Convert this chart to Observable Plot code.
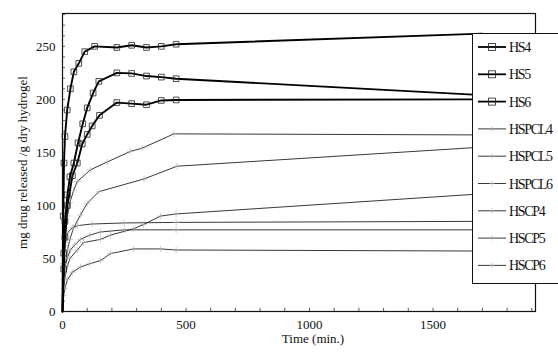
<!DOCTYPE html>
<html><head><meta charset="utf-8">
<script src="https://cdn.jsdelivr.net/npm/d3@7"></script>
<script src="https://cdn.jsdelivr.net/npm/@observablehq/plot@0.6"></script>
<style>
body{margin:0;background:#fff;}
#wrap{position:relative;width:558px;height:353px;overflow:hidden;font-family:"Liberation Serif","Times New Roman",serif;}
#wrap svg text{font-family:"Liberation Serif","Times New Roman",serif;}
#legend{position:absolute;left:472px;top:33px;width:110px;height:251px;border:1.3px solid #111;background:#fff;box-sizing:border-box;}
#legend svg{display:block;}
</style></head><body><div id="wrap"><div id="legend"></div></div>
<script>
// ---- data (time in min, mg drug released per g dry hydrogel) ----
const hs4T = [0, 3, 6, 10, 19, 32, 46, 66, 90, 130, 220, 280, 340, 400, 460, 1700];
const hs4V = [0, 90, 140, 165, 190, 210, 226, 234, 245, 250, 249, 251, 249, 250, 252, 262];
const hs5T = [0, 5, 10, 20, 30, 46, 63, 82, 100, 124, 147, 220, 280, 340, 400, 460, 1700];
const hs5V = [0, 55, 85, 110, 127, 140, 159, 177, 192, 206, 217, 225, 224.5, 222, 221, 219.5, 204];
const hs6T = [0, 5, 10, 20, 40, 60, 80, 100, 120, 150, 220, 280, 340, 400, 460, 1700];
const hs6V = [0, 40, 70, 100, 128, 140, 158, 167, 175, 185, 197, 196, 195, 199, 199.5, 200];
const hspcl4T = [0, 5, 10, 20, 30, 45, 60, 113, 181, 275, 322, 451, 1700];
const hspcl4V = [0, 45, 65, 90, 103, 114, 122.6, 133.6, 141, 151, 154, 167.5, 166.5];
const hspcl5T = [0, 5, 10, 20, 30, 45, 73, 100, 147, 330, 464, 1700];
const hspcl5V = [0, 30, 42, 58, 68, 79, 91, 102, 113, 125, 137, 155];
const hspcl6T = [0, 5, 10, 20, 30, 60, 85, 154, 194, 288, 328, 397, 460, 1700];
const hspcl6V = [0, 22, 32, 43, 50, 58, 65, 68, 72, 78, 82, 90, 92, 111];
const hscp4T = [0, 5, 10, 20, 40, 60, 120, 250, 460, 1700];
const hscp4V = [0, 45, 62, 74, 79, 81, 82.5, 83.5, 84, 85];
const hscp5T = [0, 5, 10, 20, 32, 50, 73, 110, 154, 250, 460, 1700];
const hscp5V = [0, 30, 42, 51, 58, 63, 68, 72, 75, 77, 77, 77];
const hscp6T = [0, 5, 10, 20, 40, 73, 110, 154, 194, 288, 397, 460, 1700];
const hscp6V = [0, 15, 22, 30, 37, 42, 45, 48, 54.6, 59, 59, 58, 57];

const seriesNames = ["HS4", "HS5", "HS6", "HSPCL4", "HSPCL5", "HSPCL6", "HSCP4", "HSCP5", "HSCP6"];
const seriesT = [hs4T, hs5T, hs6T, hspcl4T, hspcl5T, hspcl6T, hscp4T, hscp5T, hscp6T];
const seriesV = [hs4V, hs5V, hs6V, hspcl4V, hspcl5V, hspcl6V, hscp4V, hscp5V, hscp6V];
const thickSeries = ["HS4", "HS5", "HS6"];

const yTicks = [0, 50, 100, 150, 200, 250];
const xTicks = [0, 500, 1000, 1500];
const yTitle = "mg drug released /g dry hydrogel";
const xTitle = "Time (min.)";

// ---- build table ----
const rows = seriesNames.flatMap((name, i) =>
  seriesT[i].map((t, j) => ({name, t, v: seriesV[i][j], thick: thickSeries.includes(name)})));
const thick = rows.filter(d => d.thick);
const thin = rows.filter(d => !d.thick);
const mk = d => d.t > 0 && d.t < 1000;

const yMinor = d3.range(0, 281, 10);
const xMinor = d3.range(0, 1901, 100);
const serif = "Liberation Serif, Times New Roman, serif";

const chart = Plot.plot({
  width: 558, height: 353,
  marginTop: 13, marginRight: 23, marginBottom: 42, marginLeft: 62,
  style: {fontFamily: serif, fontSize: "13px", background: "white", color: "#111"},
  x: {domain: [0, 1915]},
  y: {domain: [0, 281]},
  marks: [
    Plot.frame({stroke: "#111", strokeWidth: 1.2}),
    Plot.ruleY(yMinor, {x1: 0, x2: 12, stroke: "#333", strokeWidth: 0.8}),
    Plot.ruleX(xMinor, {y1: 0, y2: 3, stroke: "#333", strokeWidth: 0.8}),
    Plot.axisY({ticks: yTicks, tickSize: 0, tickPadding: 7, label: null, fontSize: 13, tickFormat: d3.format("d")}),
    Plot.axisX({ticks: xTicks, tickSize: 0, tickPadding: 8, label: null, fontSize: 13, tickFormat: d3.format("d")}),
    Plot.line(thin, {x: "t", y: "v", z: "name", stroke: "#222", strokeWidth: 0.9}),
    Plot.dot(thin.filter(mk), {x: "t", y: "v", symbol: "plus", r: 2.2, stroke: "#aaa", strokeWidth: 0.6}),
    Plot.line(thick, {x: "t", y: "v", z: "name", stroke: "#000", strokeWidth: 1.9}),
    Plot.dot(thick.filter(mk), {x: "t", y: "v", symbol: "square", r: 3.2, stroke: "#222", strokeWidth: 0.8, fill: "none"}),
    Plot.text([yTitle], {text: d => d, frameAnchor: "left", textAnchor: "middle", rotate: -90, dx: -40, fontSize: 13, fontFamily: serif}),
    Plot.text([xTitle], {text: d => d, frameAnchor: "bottom", textAnchor: "middle", dy: 31, dx: 14, fontSize: 13, fontFamily: serif})
  ]
});
const wrap = document.getElementById("wrap");
wrap.insertBefore(chart, wrap.firstChild);

// ---- legend ----
const lg = d3.select("#legend").append("svg").attr("width", 110).attr("height", 250);
seriesNames.forEach((name, i) => {
  const cy = 13 + 27.3 * i;
  const isThick = thickSeries.includes(name);
  lg.append("line").attr("x1", 5).attr("x2", 33).attr("y1", cy).attr("y2", cy)
    .attr("stroke", isThick ? "#000" : "#222").attr("stroke-width", isThick ? 1.8 : 0.9);
  if (isThick) {
    lg.append("rect").attr("x", 15.5).attr("y", cy - 3.5).attr("width", 7).attr("height", 7)
      .attr("fill", "none").attr("stroke", "#222").attr("stroke-width", 0.8);
  } else {
    lg.append("path").attr("d", `M${19 - 2.5},${cy}h5M19,${cy - 2.5}v5`).attr("stroke", "#aaa").attr("stroke-width", 0.6);
  }
  lg.append("text").attr("x", 36).attr("y", cy + 5).text(name)
    .attr("font-family", serif).attr("font-size", 14)
    .attr("letter-spacing", "-1.3px").attr("fill", "#111");
});
</script></body></html>
